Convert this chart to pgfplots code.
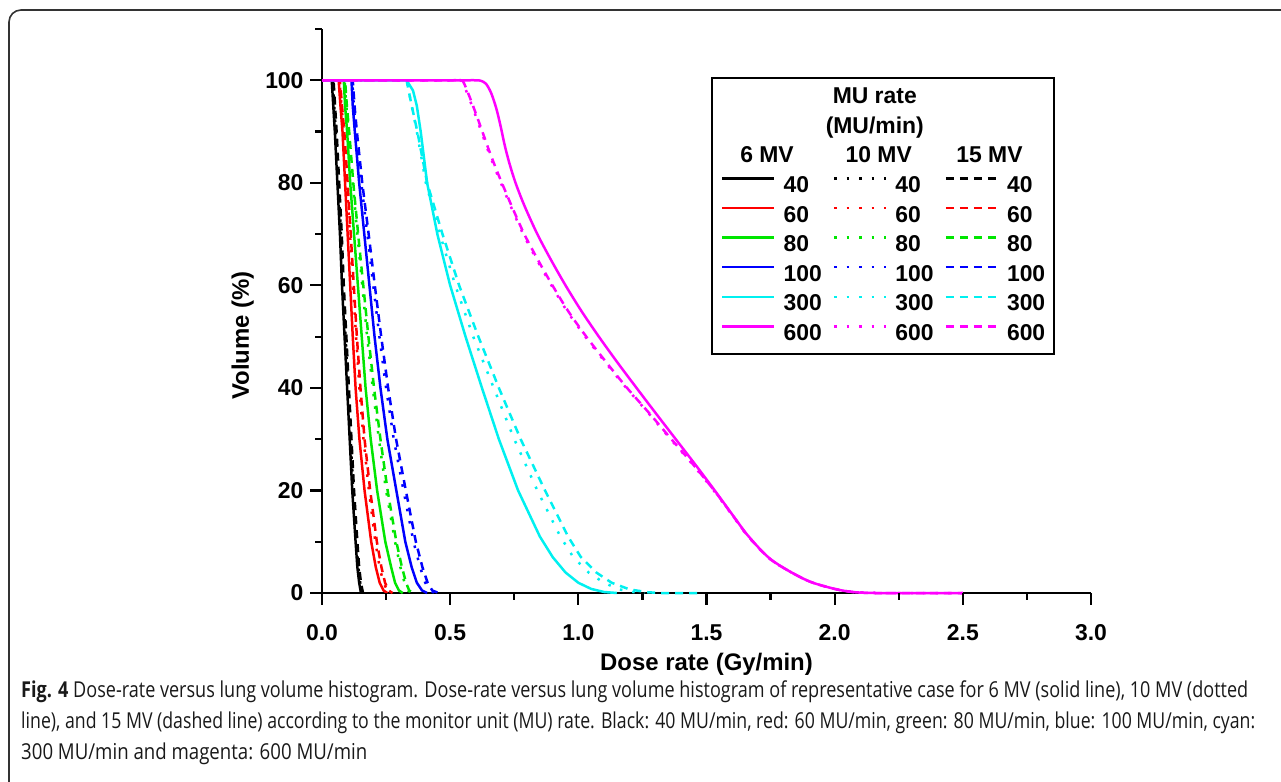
\documentclass[border=0pt]{standalone}
\usepackage{fontspec}
\setmainfont{Liberation Sans}
\newfontfamily\capfont{Open Sans}
\usepackage{graphicx}
\usepackage{pgfplots}
\pgfplotsset{compat=1.18}
\definecolor{cgreen}{RGB}{0,230,0}
\definecolor{ccyan}{RGB}{0,240,240}
\definecolor{cmag}{RGB}{255,0,255}
\tikzset{
  dotstyle/.style={dash pattern=on 2.5bp off 10bp},
  dashstyle/.style={dash pattern=on 8bp off 6bp},
}
\newcommand{\hd}[2]{\makebox[0pt][l]{\hspace*{#1}\makebox[0pt][c]{#2}}}
\begin{document}
\begin{tikzpicture}
\useasboundingbox (0bp,0bp) rectangle (1281bp,-782bp);
\draw[black!80, line width=1.6bp, rounded corners=12bp] (9bp,-900bp) -- (9bp,-10bp) -- (1400bp,-10bp);
\begin{axis}[
  at={(322bp,-593bp)}, anchor=south west,
  scale only axis, width=769bp, height=564bp,
  xmin=0, xmax=3, ymin=0, ymax=110,
  clip=false,
  axis x line*=bottom, axis y line*=left,
  xtick pos=bottom, ytick pos=left,
  axis line style={-, line width=2bp},
  xtick={0,0.5,1,1.5,2,2.5,3},
  ytick={0,20,40,60,80,100},
  minor xtick={0.25,0.75,1.25,1.75,2.25,2.75},
  minor ytick={10,30,50,70,90,110},
  tick align=outside,
  major tick length=10bp, minor tick length=6bp,
  tick style={draw=black, line width=2bp},
  /pgf/number format/assume math mode=true,
  tick label style={font=\fontsize{23}{23}\selectfont\bfseries},
  xticklabel style={yshift=-18bp, /pgf/number format/fixed, /pgf/number format/fixed zerofill, /pgf/number format/precision=1},
  yticklabel style={xshift=-5bp, /pgf/number format/fixed, /pgf/number format/precision=0},
  every axis x label/.style={at={(axis description cs:0.5,-0.127)}, anchor=center},
  every axis y label/.style={at={(axis description cs:-0.103,0.457)}, rotate=90, anchor=center},
  label style={font=\fontsize{24}{24}\selectfont\bfseries},
  xlabel={Dose rate (Gy/min)},
  ylabel={Volume (\%)},
  legend columns=3,
  legend cell align=left,
  legend image code/.code={\path (0bp,0bp) (52bp,0bp); \draw[#1] (0bp,8bp) -- (52bp,8bp);},
  legend style={at={(0.5059,0.9149)}, anchor=north west, draw=black, line width=2bp,
    inner xsep=9bp, inner ysep=8.6bp,
    font=\fontsize{23}{23}\selectfont\bfseries,
    nodes={inner sep=0pt, text height=17bp, text depth=5bp},
    row sep=7.6bp, column sep=8bp,
    /tikz/every even column/.append style={column sep=11bp}},
]
% legend rows
\addlegendimage{empty legend}\addlegendentry{\mbox{}}
\addlegendimage{empty legend}\addlegendentry{\hd{-21bp}{MU rate}}
\addlegendimage{empty legend}\addlegendentry{\mbox{}}
\addlegendimage{empty legend}\addlegendentry{\mbox{}}
\addlegendimage{empty legend}\addlegendentry{\hd{-21bp}{(MU/min)}}
\addlegendimage{empty legend}\addlegendentry{\mbox{}}
\addlegendimage{empty legend}\addlegendentry{\hd{-17bp}{6 MV}}
\addlegendimage{empty legend}\addlegendentry{\hd{-17bp}{10 MV}}
\addlegendimage{empty legend}\addlegendentry{\hd{-18bp}{15 MV}}
\addlegendimage{black, line width=2.5bp}\addlegendentry{40}
\addlegendimage{black, line width=2.5bp, dotstyle}\addlegendentry{40}
\addlegendimage{black, line width=2.5bp, dashstyle}\addlegendentry{40}
\addlegendimage{red, line width=2.5bp}\addlegendentry{60}
\addlegendimage{red, line width=2.5bp, dotstyle}\addlegendentry{60}
\addlegendimage{red, line width=2.5bp, dashstyle}\addlegendentry{60}
\addlegendimage{cgreen, line width=2.5bp}\addlegendentry{80}
\addlegendimage{cgreen, line width=2.5bp, dotstyle}\addlegendentry{80}
\addlegendimage{cgreen, line width=2.5bp, dashstyle}\addlegendentry{80}
\addlegendimage{blue, line width=2.5bp}\addlegendentry{100}
\addlegendimage{blue, line width=2.5bp, dotstyle}\addlegendentry{100}
\addlegendimage{blue, line width=2.5bp, dashstyle}\addlegendentry{100}
\addlegendimage{ccyan, line width=2.5bp}\addlegendentry{300}
\addlegendimage{ccyan, line width=2.5bp, dotstyle}\addlegendentry{300}
\addlegendimage{ccyan, line width=2.5bp, dashstyle}\addlegendentry{300}
\addlegendimage{cmag, line width=2.5bp}\addlegendentry{600}
\addlegendimage{cmag, line width=2.5bp, dotstyle}\addlegendentry{600}
\addlegendimage{cmag, line width=2.5bp, dashstyle}\addlegendentry{600}

% black 40
\addplot[forget plot, black, line width=2.5bp] coordinates {(0,100)(0.038,100)(0.05,90)(0.06,80)(0.07,70)(0.078,60)(0.088,50)(0.098,40)(0.108,30)(0.118,20)(0.131,10)(0.138,5)(0.145,2)(0.152,0)};
\addplot[forget plot, black, line width=2.5bp, dotstyle] coordinates {(0,100)(0.042,100)(0.054,90)(0.064,80)(0.074,70)(0.082,60)(0.092,50)(0.102,40)(0.112,30)(0.122,20)(0.135,10)(0.142,5)(0.149,2)(0.156,0)};
\addplot[forget plot, black, line width=2.5bp, dashstyle] coordinates {(0,100)(0.045,100)(0.057,90)(0.067,80)(0.077,70)(0.085,60)(0.095,50)(0.105,40)(0.115,30)(0.125,20)(0.138,10)(0.145,5)(0.152,2)(0.16,0)};
% red 60
\addplot[forget plot, red, line width=2.5bp] coordinates {(0,100)(0.065,100)(0.072,95)(0.08,90)(0.09,80)(0.1,70)(0.11,60)(0.12,50)(0.131,40)(0.146,30)(0.166,20)(0.192,10)(0.21,5)(0.225,2)(0.24,0.5)(0.255,0)};
\addplot[forget plot, red, line width=2.5bp, dotstyle] coordinates {(0,100)(0.068,100)(0.076,95)(0.085,90)(0.097,80)(0.109,70)(0.121,60)(0.133,50)(0.146,40)(0.162,30)(0.183,20)(0.208,10)(0.225,5)(0.24,2)(0.255,0.5)(0.27,0)};
\addplot[forget plot, red, line width=2.5bp, dashstyle] coordinates {(0,100)(0.07,100)(0.078,95)(0.087,90)(0.1,80)(0.112,70)(0.124,60)(0.136,50)(0.15,40)(0.166,30)(0.188,20)(0.214,10)(0.232,5)(0.246,2)(0.26,0.5)(0.275,0)};
% green 80
\addplot[forget plot, cgreen, line width=2.5bp] coordinates {(0,100)(0.085,100)(0.09,95)(0.098,90)(0.11,80)(0.125,70)(0.14,60)(0.155,50)(0.17,40)(0.19,30)(0.215,20)(0.247,10)(0.27,5)(0.285,2)(0.3,0.5)(0.315,0)};
\addplot[forget plot, cgreen, line width=2.5bp, dotstyle] coordinates {(0,100)(0.088,100)(0.095,95)(0.104,90)(0.12,80)(0.138,70)(0.157,60)(0.176,50)(0.198,40)(0.222,30)(0.25,20)(0.285,10)(0.306,5)(0.322,2)(0.335,0.5)(0.35,0)};
\addplot[forget plot, cgreen, line width=2.5bp, dashstyle] coordinates {(0,100)(0.09,100)(0.097,95)(0.106,90)(0.122,80)(0.141,70)(0.161,60)(0.181,50)(0.203,40)(0.228,30)(0.256,20)(0.29,10)(0.312,5)(0.328,2)(0.34,0.5)(0.355,0)};
% blue 100
\addplot[forget plot, blue, line width=2.5bp] coordinates {(0,100)(0.115,100)(0.12,95)(0.128,90)(0.145,80)(0.165,70)(0.185,60)(0.205,50)(0.228,40)(0.255,30)(0.29,20)(0.325,10)(0.35,5)(0.37,2)(0.39,0.5)(0.41,0)};
\addplot[forget plot, blue, line width=2.5bp, dotstyle] coordinates {(0,100)(0.118,100)(0.124,95)(0.133,90)(0.153,80)(0.177,70)(0.2,60)(0.224,50)(0.25,40)(0.28,30)(0.318,20)(0.357,10)(0.383,5)(0.403,2)(0.42,0.5)(0.44,0)};
\addplot[forget plot, blue, line width=2.5bp, dashstyle] coordinates {(0,100)(0.12,100)(0.127,95)(0.136,90)(0.157,80)(0.182,70)(0.206,60)(0.231,50)(0.258,40)(0.289,30)(0.327,20)(0.366,10)(0.392,5)(0.412,2)(0.43,0.5)(0.455,0)};
% cyan 300
\addplot[forget plot, ccyan, line width=2.5bp] coordinates {(0,100)(0.33,100)(0.355,98)(0.37,95)(0.385,90)(0.41,80)(0.45,70)(0.5,60)(0.56,50)(0.624,40)(0.69,30)(0.765,20)(0.85,11)(0.9,7)(0.95,4)(1.0,2)(1.05,0.8)(1.1,0.2)(1.15,0)};
\addplot[forget plot, ccyan, line width=2.5bp, dotstyle] coordinates {(0,100)(0.33,100)(0.35,95)(0.37,90)(0.405,80)(0.46,70)(0.52,60)(0.59,50)(0.67,40)(0.75,30)(0.84,20)(0.93,11)(0.98,7)(1.04,4)(1.1,2)(1.16,0.7)(1.22,0.15)(1.26,0)};
\addplot[forget plot, ccyan, line width=2.5bp, dashstyle] coordinates {(0,100)(0.33,100)(0.35,95)(0.372,90)(0.41,80)(0.47,70)(0.535,60)(0.61,50)(0.69,40)(0.775,30)(0.87,20)(0.96,11)(1.01,7)(1.07,4)(1.13,2)(1.2,0.7)(1.27,0.15)(1.32,0)(1.47,0)};
% magenta 600
\addplot[forget plot, cmag, line width=2.5bp, dotstyle, smooth, tension=0.5] coordinates {(0,100)(0.2,100)(0.4,100)(0.5,100)(0.53,100)(0.546,99.8)(0.57,97)(0.6,93)(0.625,89.5)(0.65,86)(0.677,82.5)(0.706,79)(0.74,75)(0.785,70)(0.838,65)(0.895,60)(0.956,55)(1.027,50)(1.105,45)(1.187,40)(1.275,35)(1.36,30)(1.447,25)(1.528,20)(1.603,15)(1.663,11)(1.753,6.4)(1.89,2.5)(2.0,0.8)(2.07,0.2)(2.13,0.02)(2.2,0)(2.35,0)(2.5,0)};
\addplot[forget plot, cmag, line width=2.5bp, dashstyle, smooth, tension=0.5] coordinates {(0,100)(0.2,100)(0.4,100)(0.5,100)(0.534,100)(0.55,99.8)(0.574,97)(0.604,93)(0.629,89.5)(0.654,86)(0.681,82.5)(0.71,79)(0.744,75)(0.789,70)(0.842,65)(0.899,60)(0.96,55)(1.031,50)(1.109,45)(1.19,40)(1.278,35)(1.363,30)(1.449,25)(1.53,20)(1.604,15)(1.664,11)(1.754,6.4)(1.89,2.5)(2.0,0.8)(2.07,0.2)(2.13,0.02)(2.2,0)(2.35,0)(2.5,0)};
\addplot[forget plot, cmag, line width=2.5bp, smooth, tension=0.5] coordinates {(0,100)(0.2,100)(0.4,100)(0.55,100)(0.6,100)(0.62,99.9)(0.64,99.3)(0.66,97.5)(0.68,94.5)(0.697,91)(0.712,87.5)(0.73,84)(0.755,80)(0.79,75.5)(0.84,70)(0.893,65)(0.95,60)(1.012,55)(1.08,50)(1.152,45)(1.227,40)(1.303,35)(1.38,30)(1.457,25)(1.532,20)(1.605,15)(1.665,11)(1.755,6.4)(1.89,2.5)(2.0,0.8)(2.07,0.2)(2.13,0.02)(2.2,0)(2.35,0)(2.5,0)};
\end{axis}
% outward tick marks
\foreach \x in {322,450.17,578.33,706.5,834.67,962.83,1091}
  \draw[black, line width=2.2bp] (\x bp,-593bp) -- (\x bp,-605bp);
\foreach \x in {386.08,514.25,642.42,770.58,898.75,1026.92}
  \draw[black, line width=2.2bp] (\x bp,-593bp) -- (\x bp,-600bp);
\foreach \y in {593,490.45,387.9,285.36,182.8,80.27}
  \draw[black, line width=2.2bp] (322bp,-\y bp) -- (310bp,-\y bp);
\foreach \y in {541.7,439.2,336.6,234.1,131.5,29}
  \draw[black, line width=2.2bp] (322bp,-\y bp) -- (315bp,-\y bp);
\node[anchor=base west, inner sep=0pt, text=black!90] at (21bp,-697bp) {\resizebox{1227bp}{\height}{\capfont\fontsize{22}{24}\selectfont\textbf{Fig. 4} Dose-rate versus lung volume histogram. Dose-rate versus lung volume histogram of representative case for 6 MV (solid line), 10 MV (dotted}};
\node[anchor=base west, inner sep=0pt, text=black!90] at (21bp,-728bp) {\resizebox{1234bp}{\height}{\capfont\fontsize{22}{24}\selectfont line), and 15 MV (dashed line) according to the monitor unit (MU) rate. Black: 40 MU/min, red: 60 MU/min, green: 80 MU/min, blue: 100 MU/min, cyan:}};
\node[anchor=base west, inner sep=0pt, text=black!90] at (21bp,-759bp) {\resizebox{346bp}{\height}{\capfont\fontsize{22}{24}\selectfont 300 MU/min and magenta: 600 MU/min}};
\end{tikzpicture}
\end{document}
